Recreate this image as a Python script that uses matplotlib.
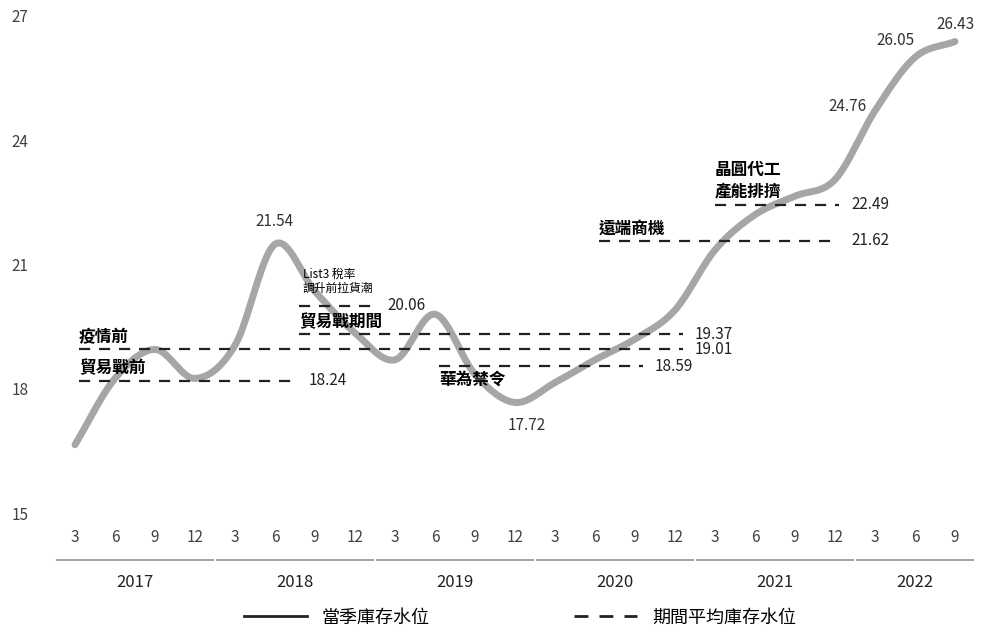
import numpy as np
import matplotlib
matplotlib.use("Agg")
import matplotlib.pyplot as plt
from matplotlib.lines import Line2D

plt.rcParams['font.family'] = ['Noto Sans CJK TC', 'DejaVu Sans']

years = ['2017', '2018', '2019', '2020', '2021', '2022']
quarters_per_year = [4, 4, 4, 4, 4, 3]
month_labels = ['3', '6', '9', '12']
y_ticks = [15, 18, 21, 24, 27]
inventory = [16.7, 18.3, 19.0, 18.3, 19.1, 21.54, 20.4, 19.4, 18.75, 19.85, 18.4, 17.72,
             18.2, 18.75, 19.25, 19.95, 21.4, 22.25, 22.7, 23.1, 24.76, 26.05, 26.43]
labelled_points = {5: '21.54', 11: '17.72', 20: '24.76', 21: '26.05', 22: '26.43'}

# period averages: (name, value, start idx, end idx)
periods = [('疫情前', 19.01, 0.1, 15.2),
           ('貿易戰前', 18.24, 0.1, 5.55),
           ('List3 稅率\n調升前拉貨潮', 20.06, 5.6, 7.5),
           ('貿易戰期間', 19.37, 5.6, 15.2),
           ('華為禁令', 18.59, 9.1, 14.2),
           ('遠端商機', 21.62, 13.1, 19.1),
           ('晶圓代工\n產能排擠', 22.49, 16.0, 19.1)]

def catmull(y, n=20):
    y = np.asarray(y, float)
    p = np.concatenate([[2*y[0]-y[1]], y, [2*y[-1]-y[-2]]])
    xs, ys = [], []
    for i in range(len(y)-1):
        p0, p1, p2, p3 = p[i], p[i+1], p[i+2], p[i+3]
        t = np.linspace(0, 1, n, endpoint=False)
        v = 0.5*((2*p1) + (-p0+p2)*t + (2*p0-5*p1+4*p2-p3)*t**2 + (-p0+3*p1-3*p2+p3)*t**3)
        xs.append(i+t); ys.append(v)
    xs.append([len(y)-1]); ys.append([y[-1]])
    return np.concatenate(xs), np.concatenate(ys)

fig = plt.figure(figsize=(10, 6.4), dpi=100)
ax = fig.add_axes([0.055, 0.195, 0.93, 0.777])
ax.set_xlim(-0.5, 22.75)
ax.set_ylim(15, 27)
for s in ax.spines.values():
    s.set_visible(False)
ax.set_yticks([])
ax.set_xticks([])
ytrans = ax.get_yaxis_transform()
for t in y_ticks:
    ax.text(-0.047, t, str(t), transform=ytrans, ha='left', va='center',
            fontsize=11, color='#404040', clip_on=False)

xs, ys = catmull(inventory)
ax.plot(xs, ys, color='#a6a6a6', lw=5, solid_capstyle='round', zorder=2)
offs = {5: (0, 0.55), 11: (0.3, -0.55), 20: (-0.7, 0.1), 21: (-0.5, 0.4), 22: (0, 0.4)}
for i, t in labelled_points.items():
    dx, dy = offs[i]
    ax.text(i+dx, inventory[i]+dy, t, ha='center', va='center', fontsize=11, color='#333333')

for name, v, a, b in periods:
    ax.plot([a, b], [v, v], ls=(0, (5, 4)), color='#222222', lw=1.6, zorder=3)
    ax.text(b+0.3, v, f'{v:.2f}', va='center', ha='left', fontsize=11, color='#222222')
    if name.startswith('List3'):
        ax.text(a+0.1, v+0.25, name, fontsize=8.5, va='bottom', ha='left', linespacing=1.1)
    elif name == '華為禁令':
        ax.text(a, v-0.12, name, fontsize=12, va='top', ha='left', fontweight='bold')
    else:
        ax.text(a, v+0.08, name, fontsize=12, va='bottom', ha='left',
                fontweight='bold', linespacing=1.3)

# category axis
trans = ax.get_xaxis_transform()
idx = 0
for y, n in zip(years, quarters_per_year):
    for q in range(n):
        ax.text(idx+q, -0.045, month_labels[q], transform=trans, ha='center', va='center',
                fontsize=11, color='#404040', clip_on=False)
    ax.plot([idx-0.45, idx+n-1+0.45], [-0.09, -0.09], transform=trans, color='#a6a6a6',
            lw=1.5, clip_on=False)
    ax.text(idx+(n-1)/2, -0.135, y, transform=trans, ha='center', va='center',
            fontsize=12, color='#222222', clip_on=False)
    idx += n

handles = [Line2D([], [], color='#222222', lw=2),
           Line2D([], [], color='#222222', lw=2, ls=(0, (5, 4)))]
fig.legend(handles, ['當季庫存水位', '期間平均庫存水位'], loc='center', bbox_to_anchor=(0.52, 0.035),
           ncol=2, frameon=False, fontsize=13, handlelength=3.5, columnspacing=8)

fig.savefig('out.png', dpi=100)
